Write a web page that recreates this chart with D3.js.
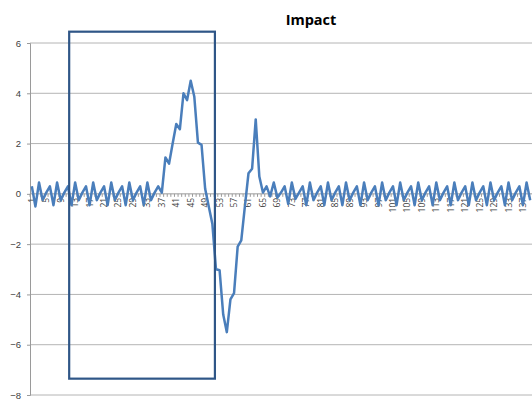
<!DOCTYPE html>
<html>
<head>
<meta charset="utf-8">
<script src="https://cdn.jsdelivr.net/npm/d3@7"></script>
<style>
  body { margin: 0; background: #fff; }
  svg { display: block; font-family: "Open Sans", "Liberation Sans", sans-serif; }
</style>
</head>
<body>
<svg></svg>
<script>
const size = {w: 532, h: 401};
const plot = {l: 30, r: 532, t: 43, b: 395};

// impact values, one per category 1..139
const impact = [
  0.3, -0.5, 0.45, -0.25, 0.05,
  0.3, -0.45, 0.45, -0.25, 0.05,
  0.3, -0.45, 0.45, -0.25, 0.05,
  0.3, -0.45, 0.45, -0.25, 0.05,
  0.3, -0.45, 0.45, -0.25, 0.05,
  0.3, -0.45, 0.45, -0.25, 0.05,
  0.3, -0.45, 0.45, -0.25, 0.05,
  0.3, 0.05, 1.45, 1.2, 2.0,
  2.78, 2.57, 4.0, 3.73, 4.5,
  3.86, 2.04, 1.95, 0.2, -0.5,
  -1.2, -3.0, -3.04, -4.8, -5.5,
  -4.2, -3.95, -2.1, -1.85, -0.5,
  0.82, 1.0, 2.96, 0.69, 0.05,
  0.3, -0.1, 0.45, -0.15, 0.05,
  0.3, -0.4, 0.45, -0.2, 0.05,
  0.3, -0.45, 0.45, -0.25, 0.05,
  0.3, -0.45, 0.45, -0.25, 0.05,
  0.3, -0.45, 0.45, -0.25, 0.05,
  0.3, -0.45, 0.45, -0.25, 0.05,
  0.3, -0.45, 0.45, -0.25, 0.05,
  0.3, -0.45, 0.45, -0.25, 0.05,
  0.3, -0.45, 0.45, -0.25, 0.05,
  0.3, -0.45, 0.45, -0.25, 0.05,
  0.3, -0.45, 0.45, -0.25, 0.05,
  0.3, -0.45, 0.45, -0.25, 0.05,
  0.3, -0.45, 0.45, -0.25, 0.05,
  0.3, -0.45, 0.45, -0.25, 0.05,
  0.3, -0.45, 0.45, -0.25
];
const categories = impact.map((d, i) => i + 1);
const xTickLabels = categories.filter(c => (c - 1) % 4 === 0);
const yTicks = [-8, -6, -4, -2, 0, 2, 4, 6];
const title = 'Impact';

// highlight box, in category / value units
const boxX = [11.35, 51.7];
const boxY = [-7.35, 6.45];

const svg = d3.select('svg')
    .attr('width', size.w)
    .attr('height', size.h);

const x = d3.scaleBand()
    .domain(categories)
    .range([plot.l, plot.r]);
const xMid = c => x(c) + x.bandwidth() / 2;
// continuous version of the category axis (for the box)
const xc = d3.scaleLinear()
    .domain([1, categories.length])
    .range([xMid(1), xMid(categories.length)]);

const y = d3.scaleLinear()
    .domain([-8, 6])
    .range([plot.b, plot.t]);

// gridlines
svg.append('g')
    .selectAll('line')
    .data(yTicks.filter(t => t !== 0))
    .join('line')
    .attr('x1', plot.l)
    .attr('x2', plot.r)
    .attr('y1', d => y(d))
    .attr('y2', d => y(d))
    .attr('stroke', '#b4b4b4')
    .attr('stroke-width', 1);

// y axis
const yAxis = svg.append('g')
    .attr('transform', `translate(${plot.l},0)`)
    .call(d3.axisLeft(y).tickValues(yTicks).tickSize(3).tickPadding(6));
yAxis.select('.domain').attr('stroke', '#9a9a9a');
yAxis.selectAll('.tick line').attr('stroke', '#9a9a9a');
yAxis.selectAll('text')
    .attr('fill', '#404040')
    .style('font-size', '9.5px');

// x axis along zero
const xAxisG = svg.append('g')
    .attr('transform', `translate(0,${y(0)})`);
xAxisG.append('line')
    .attr('x1', plot.l)
    .attr('x2', plot.r)
    .attr('stroke', '#9a9a9a');
xAxisG.selectAll('line.minor')
    .data(categories)
    .join('line')
    .classed('minor', true)
    .attr('x1', d => x(d))
    .attr('x2', d => x(d))
    .attr('y1', 0)
    .attr('y2', 3)
    .attr('stroke', '#9a9a9a');
xAxisG.selectAll('text')
    .data(xTickLabels)
    .join('text')
    .attr('transform', d => `translate(${xMid(d) + 3},4) rotate(-90)`)
    .attr('text-anchor', 'end')
    .attr('fill', '#404040')
    .style('font-size', '8.5px')
    .text(d => d);

// line
const line = d3.line()
    .x((d, i) => xMid(categories[i]))
    .y(d => y(d));

svg.append('path')
    .datum(impact)
    .attr('d', line)
    .attr('fill', 'none')
    .attr('stroke', '#4a7ebb')
    .attr('stroke-width', 2.5)
    .attr('stroke-linejoin', 'round');

// highlight box
svg.append('rect')
    .attr('x', xc(boxX[0]))
    .attr('y', y(boxY[1]))
    .attr('width', xc(boxX[1]) - xc(boxX[0]))
    .attr('height', y(boxY[0]) - y(boxY[1]))
    .attr('fill', 'none')
    .attr('stroke', '#2f5687')
    .attr('stroke-width', 2.2);

// title
svg.append('text')
    .attr('x', 311)
    .attr('y', 25)
    .attr('text-anchor', 'middle')
    .attr('fill', '#000')
    .style('font-size', '14.5px')
    .style('font-weight', 'bold')
    .text(title);
</script>
</body>
</html>
